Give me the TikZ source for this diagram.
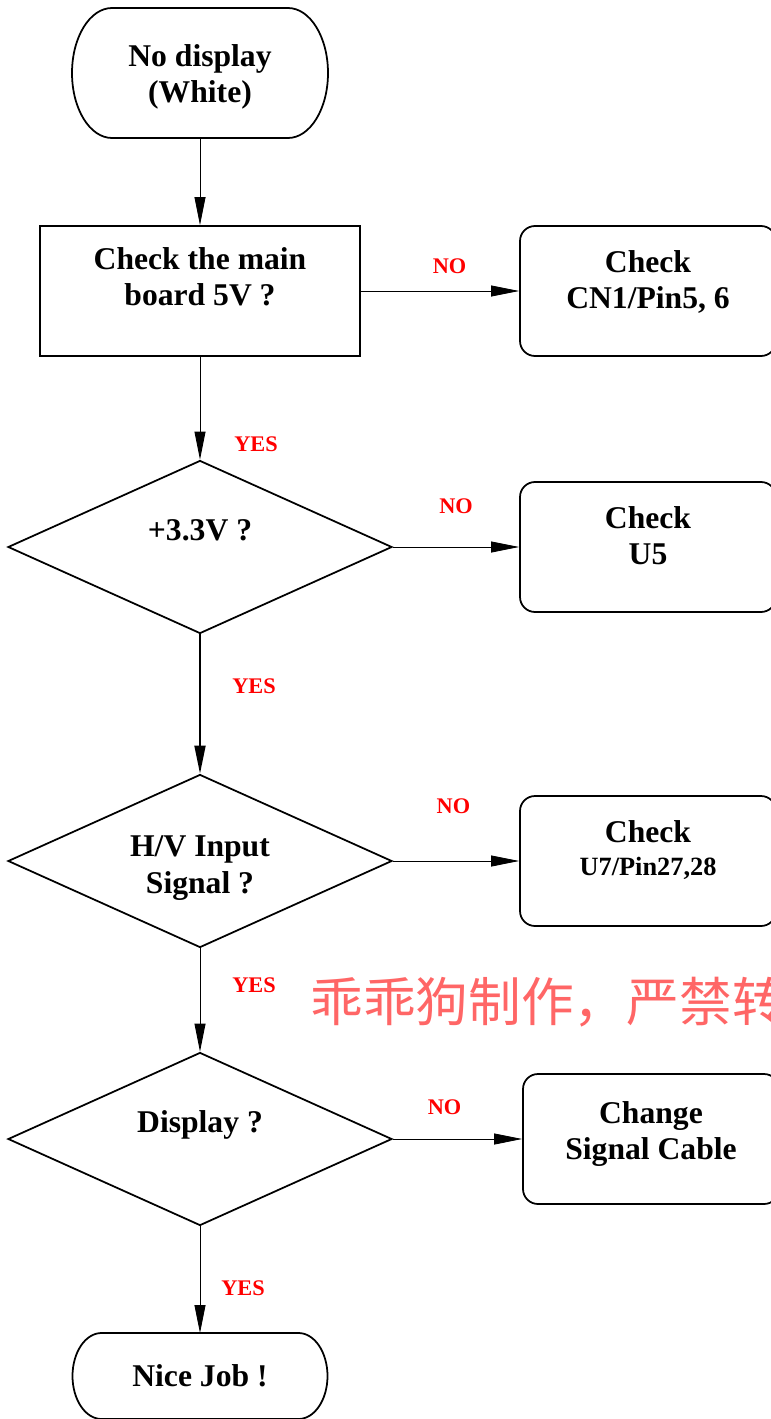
\documentclass[tikz,border=0pt]{standalone}
\usepackage{fontspec}
\setmainfont{Liberation Serif}
\newfontfamily\cjkfont{Noto Sans CJK SC}
\usepackage{tikz}
\usetikzlibrary{shapes.geometric, arrows.meta}
\definecolor{wmred}{RGB}{255,102,102}
\newcommand{\flowfont}{\fontsize{18}{20.7}\selectfont\bfseries}
\newcommand{\smallflow}{\fontsize{15}{17.3}\selectfont\bfseries}
% frame with half-elliptic ends for start/end nodes
\newcommand{\termframe}[3]{%
  \draw[line width=1pt] ([xshift=#2]#1.north west) -- ([xshift=-#2]#1.north east)
    arc[start angle=90, end angle=-90, x radius=#2, y radius=#3]
    -- ([xshift=#2]#1.south west)
    arc[start angle=270, end angle=90, x radius=#2, y radius=#3] -- cycle;}
\tikzstyle{term} = [rectangle, outer sep=0pt, minimum width=5.12cm, minimum height=2.6cm, align=center, font=\flowfont]
\tikzstyle{check} = [rectangle, draw=black, line width=1pt, minimum width=6.4cm, minimum height=2.6cm, align=center, font=\flowfont, text height=1cm, text depth=0.41cm]
\tikzstyle{act} = [rectangle, rounded corners=0.3cm, draw=black, line width=1pt, minimum width=5.12cm, minimum height=2.6cm, align=center, font=\flowfont, text height=1cm, text depth=0.3cm]
\tikzstyle{dec} = [diamond, aspect=2.22, draw=black, line width=1pt, inner sep=0pt, minimum width=7.68cm, minimum height=3.46cm, align=center, font=\flowfont, text height=0.43cm, text depth=0.7cm]
\tikzstyle{arrow} = [line width=0.5pt, -{Triangle[length=0.56cm, width=0.22cm]}]
\tikzstyle{ans} = [text=red, font=\fontsize{12.7}{15}\selectfont\bfseries]

\begin{document}
\begin{tikzpicture}[node distance=4cm]
	\useasboundingbox (0,0) rectangle (15.42,-28.38);
	\node (nodisp) [term, text height=1.4cm, text depth=0.2cm] at (4,-1.46) {No display\\(White)};
	\node (chk5v) [check, below of=nodisp, yshift=-0.36cm] {Check the main\\board 5V ?};
	\node (cn1) [act, right of=chk5v, xshift=4.96cm] {Check\\CN1/Pin5, 6};
	\node (v33) [dec, below of=chk5v, yshift=-1.12cm] {+3.3V ?};
	\node (u5) [act, right of=v33, xshift=4.96cm] {Check\\U5};
	\node (hvin) [dec, below of=v33, yshift=-2.28cm, text height=1.5cm, text depth=0.21cm] {H/V Input\\Signal ?};
	\node (u7) [act, right of=hvin, xshift=4.96cm, text depth=0.41cm] {Check\\[-2pt]{\smallflow U7/Pin27,28}};
	\node (disp) [dec, below of=hvin, yshift=-1.56cm] {Display ?};
	\node (cable) [act, right of=disp, xshift=5.02cm, text depth=0.17cm] {Change\\Signal Cable};
	\node (nice) [term, below of=disp, yshift=-0.74cm, minimum width=5.1cm, minimum height=1.72cm] {Nice Job !};
	\termframe{nodisp}{0.8cm}{1.3cm}
	\termframe{nice}{0.58cm}{0.86cm}
	\draw [arrow] (nodisp) -- (chk5v);
	\draw [arrow] (chk5v) -- node[ans, pos=0.56, yshift=0.5cm] {NO} (cn1);
	\draw [arrow] (chk5v) -- node[ans, pos=0.85, xshift=1.12cm] {YES} (v33);
	\draw [arrow] (v33) -- node[ans, pos=0.5, yshift=0.82cm] {NO} (u5);
	\draw [arrow, line width=1pt] (v33) -- node[ans, pos=0.37, xshift=1.08cm] {YES} (hvin);
	\draw [arrow] (hvin) -- node[ans, pos=0.48, yshift=1.1cm] {NO} (u7);
	\draw [arrow] (hvin) -- node[ans, pos=0.36, xshift=1.08cm] {YES} (disp);
	\draw [arrow] (disp) -- node[ans, pos=0.4, yshift=0.64cm] {NO} (cable);
	\draw [arrow] (disp) -- node[ans, pos=0.58, xshift=0.86cm] {YES} (nice);
	\node (wmark) [anchor=base west, inner sep=0pt, text=wmred, font=\cjkfont\fontsize{30}{36}\selectfont] at (6.2,-20.42) {乖乖狗制作，严禁转};
\end{tikzpicture}
\end{document}
